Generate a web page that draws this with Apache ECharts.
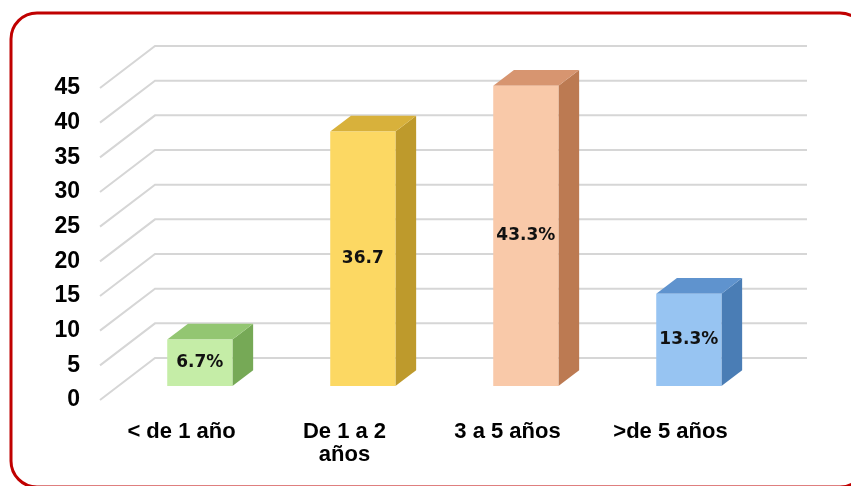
<!DOCTYPE html>
<html lang="es">
<head>
    <meta charset="UTF-8">
    <title>Tiempo - barras 3D</title>
    <script src="https://cdn.jsdelivr.net/npm/echarts@6/dist/echarts.min.js"></script>
    <style>
        html, body { margin: 0; padding: 0; background: #fff; }
        #chart { width: 851px; height: 486px; }
    </style>
</head>
<body>
    <div id="chart"></div>
    <script type="text/javascript">
        // datos
        var categories = ['< de 1 año', 'De 1 a 2\naños', '3 a 5 años', '>de 5 años']
        var values = [6.7, 36.7, 43.3, 13.3]
        var valueLabels = ['6.7%', '36.7', '43.3%', '13.3%']
        var yTicks = [0, 5, 10, 15, 20, 25, 30, 35, 40, 45]

        // colores por barra: frente, tapa, lado
        var palette = [
            ['#C5EDA7', '#93C672', '#76A956'],
            ['#FCD863', '#D8B13B', '#BE9A2C'],
            ['#F9C9A9', '#D79570', '#BC7A52'],
            ['#97C4F2', '#5F93CE', '#4A7DB5']
        ]

        // profundidad de la "caja" 3D
        var DX = 55, DY = 42
        var F1 = 1 / 3, F2 = 0.71

        var chart = echarts.init(document.getElementById('chart'))

        function renderGrid(params, api) {
            var y = api.coord([0, api.value(1)])[1]
            var x0 = params.coordSys.x
            var x1 = x0 + params.coordSys.width
            return {
                type: 'polyline',
                shape: { points: [[x0, y], [x0 + DX, y - DY], [x1 + DX, y - DY]] },
                style: { stroke: '#D6D6D6', lineWidth: 2, fill: null },
                silent: true
            }
        }

        function renderBar(params, api) {
            var i = api.value(0)
            var base = api.coord([i, 0])
            var top = api.coord([i, api.value(1)])
            var w = api.size([1, 0])[0] * 0.4
            var fx = base[0] + DX * F1 - w / 2
            var yb = base[1] - DY * F1
            var yt = top[1] - DY * F1
            var ddx = DX * (F2 - F1)
            var ddy = DY * (F2 - F1)
            var c = palette[i]
            return {
                type: 'group',
                children: [
                    {
                        type: 'polygon',
                        shape: { points: [[fx + w, yt], [fx + w + ddx, yt - ddy], [fx + w + ddx, yb - ddy], [fx + w, yb]] },
                        style: { fill: c[2] }
                    },
                    {
                        type: 'polygon',
                        shape: { points: [[fx, yt], [fx + w, yt], [fx + w + ddx, yt - ddy], [fx + ddx, yt - ddy]] },
                        style: { fill: c[1] }
                    },
                    {
                        type: 'rect',
                        shape: { x: fx, y: yt, width: w, height: yb - yt },
                        style: { fill: c[0] }
                    },
                    {
                        type: 'text',
                        x: fx + w / 2,
                        y: (yt + yb) / 2,
                        style: {
                            text: valueLabels[i],
                            fill: '#111',
                            font: 'bold 17px "DejaVu Sans"',
                            align: 'center',
                            verticalAlign: 'middle'
                        }
                    }
                ]
            }
        }

        chart.setOption({
            animation: false,
            grid: { left: 100, right: 99, top: 88, bottom: 86 },
            xAxis: {
                type: 'category',
                data: categories,
                axisLine: { show: false },
                axisTick: { show: false },
                axisLabel: {
                    margin: 20,
                    color: '#000',
                    fontFamily: '"Liberation Sans", Arial',
                    fontWeight: 'bold',
                    fontSize: 22,
                    lineHeight: 23
                }
            },
            yAxis: {
                type: 'value',
                min: 0,
                max: 45,
                interval: 5,
                splitLine: { show: false },
                axisLine: { show: false },
                axisTick: { show: false },
                axisLabel: {
                    margin: 20,
                    color: '#000',
                    fontFamily: '"Liberation Sans", Arial',
                    fontWeight: 'bold',
                    fontSize: 23
                }
            },
            graphic: [{
                type: 'rect',
                shape: { x: 11, y: 13, width: 855, height: 474, r: 26 },
                style: { stroke: '#C00000', lineWidth: 3, fill: null },
                z: 100
            }],
            series: [
                {
                    type: 'custom',
                    renderItem: renderGrid,
                    data: yTicks.map(function (v) { return [0, v] }),
                    z: 1
                },
                {
                    type: 'custom',
                    renderItem: renderBar,
                    data: values.map(function (v, i) { return [i, v] }),
                    z: 2
                }
            ]
        })
    </script>
</body>
</html>
